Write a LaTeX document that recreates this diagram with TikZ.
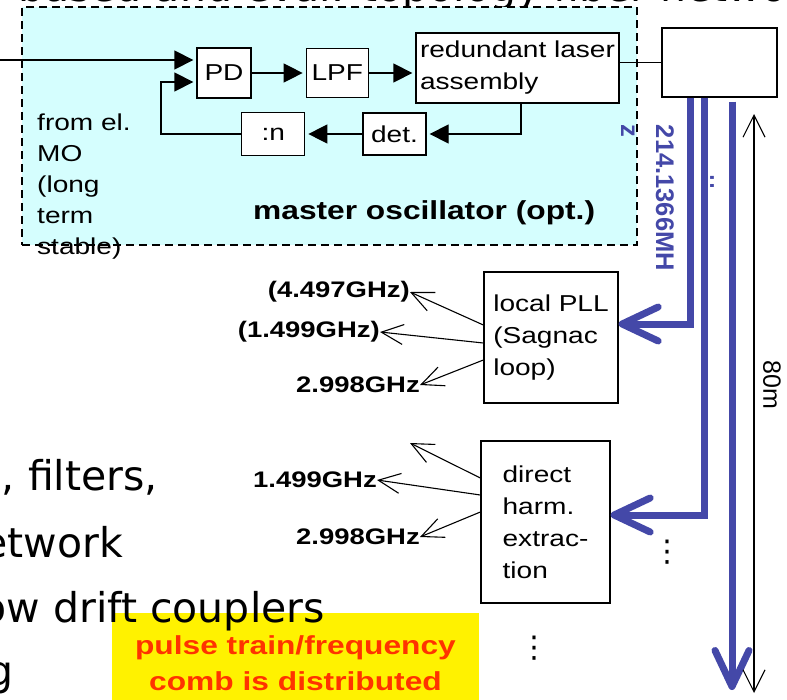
\documentclass[tikz,border=0pt]{standalone}
\usepackage{fontspec}
\setmainfont[FakeStretch=1.22]{Liberation Sans}
\newfontfamily\plainsans{Liberation Sans}
\newfontfamily\slidefont{DejaVu Sans}
\usetikzlibrary{arrows.meta,positioning,calc}
\definecolor{mocyan}{HTML}{D5FEFE}
\definecolor{fiberblue}{HTML}{4448A8}
\definecolor{combred}{HTML}{FF3300}

\begin{document}
\begin{tikzpicture}[
  x=1pt, y=-1pt,
  font=\fontsize{23}{32}\selectfont,
  box/.style={draw, line width=1.3pt, fill=white, inner sep=0pt, align=left},
  flow/.style={-{Triangle[length=19pt,width=19pt]}, line width=1.3pt, shorten >=3pt},
  tap/.style={-{Straight Barb[length=22pt,width=20pt]}, line width=1.1pt},
  fiber/.style={-{Straight Barb[length=36pt,width=34pt,round]}, line width=7pt, draw=fiberblue},
  dim/.style={{Straight Barb[length=22pt,width=22pt]}-{Straight Barb[length=22pt,width=22pt]}, line width=1.1pt},
  freq/.style={font=\fontsize{22.5}{26}\selectfont\bfseries, inner sep=0pt, anchor=east},
  slide/.style={font=\slidefont\fontsize{41}{48}\selectfont, inner sep=0pt, anchor=base east},
  dots/.style={inner sep=0pt, font=\slidefont\fontsize{30}{30}\selectfont}
]
\useasboundingbox (0,0) rectangle (787,699);
\node[slide, anchor=base west] (title) at (18,1) {based and eval. topology fiber network};
% master oscillator area
\node[draw, dash pattern=on 8pt off 5pt, line width=1.3pt, fill=mocyan, minimum width=615pt, minimum height=238pt, inner sep=0pt] (mo) at (329.5,126) {};
\node[box, minimum width=54pt, minimum height=50pt] (pd) at (224,73) {PD};
\node[box, minimum width=62pt, minimum height=49pt, right=54pt of pd] (lpf) {LPF};
\node[box, minimum width=203pt, minimum height=70pt] (laser) at (517.5,68) {redundant laser\\assembly};
\node[box, minimum width=63pt, minimum height=42pt] (det) at (394.5,134) {det.};
\node[box, minimum width=63pt, minimum height=43pt, left=57pt of det] (divn) {:n};
\node[anchor=north west, align=left, inner sep=0pt, font=\fontsize{23}{31}\selectfont] (elmo) at (37,114) {from el.\\MO\\(long\\term\\stable)};
\node[anchor=west, inner sep=0pt, font=\fontsize{26}{30}\selectfont\bfseries] (molabel) at (253,213) {master oscillator (opt.)};
\node[box, minimum width=115pt, minimum height=69pt] (rbox) at (719.5,62.5) {};
% receivers
\node[box, minimum width=134pt, minimum height=131pt] (pll) at (551,337.5) {local PLL\\(Sagnac\\loop)};
\node[box, minimum width=129pt, minimum height=162pt] (dhe) at (545.5,522) {direct\\harm.\\extrac-\\tion};
\node[freq] (pa) at (410,292) {(4.497GHz)};
\node[freq] (pb) at (380,332) {(1.499GHz)};
\node[freq] (pc) at (420,385) {2.998GHz};
\coordinate (da) at (410,443);
\node[freq] (db) at (377,480) {1.499GHz};
\node[freq] (dc) at (420,537) {2.998GHz};
% slide text
\node[fill=yellow, minimum width=367pt, minimum height=100pt, inner sep=0pt, align=center, text=combred, font=\fontsize{26}{36}\selectfont\bfseries, anchor=north] (comb) at (295.5,613) {pulse train/frequency\\comb is distributed};
\node[slide] (filt) at (158,490) {, filters,};
\node[slide] (netw) at (123,557) {etwork};
\node[slide] (coup) at (325,622) {ow drift couplers};
\node[slide] (tail) at (14,685) {g};
% labels along the link
\node[rotate=-90, align=left, inner sep=0pt, text=fiberblue, font=\plainsans\fontsize{25.5}{35}\selectfont\bfseries] (rep) at (647.5,198) {214.1366MH\\z};
\node[rotate=-90, inner sep=0pt, font=\plainsans\fontsize{25}{30}\selectfont] (len) at (772,385) {80m};
\node[text=fiberblue, font=\fontsize{22}{26}\selectfont\bfseries, inner sep=0pt] (sep) at (712,182) {:};
\node[dots] (dotsa) at (667,552) {⋮};
\node[dots] (dotsb) at (534,648) {⋮};
% loop
\coordinate (refin) at (0,60);
\draw[flow] (refin) -- (refin -| pd.west);
\draw[flow] (pd) -- (lpf);
\draw[flow] (lpf.east) -- (lpf.east -| laser.west);
\draw[flow] ([xshift=3.5pt]laser.south) |- (det.east);
\draw[flow] (det.west) -- (det.west -| divn.east);
\draw[flow] (divn.west) -- ++(-80,0) |- ([yshift=-9pt]pd.west);
\draw[line width=1.3pt] (laser.east |- rbox.west) -- (rbox.west);
% taps
\draw[tap] ([yshift=12.5pt]pll.west) -- (pa.east);
\draw[tap] ([yshift=-5.5pt]pll.west) -- (pb.east);
\draw[tap] ([yshift=-22.5pt]pll.west) -- (pc.east);
\draw[tap] ([yshift=44pt]dhe.west) -- (da);
\draw[tap] ([yshift=27pt]dhe.west) -- (db.east);
\draw[tap] ([yshift=10pt]dhe.west) -- (dc.east);
% fibres
\draw[fiber] ([xshift=-29.5pt]rbox.south) |- ([yshift=13.5pt]pll.east);
\draw[fiber] ([xshift=-15.5pt]rbox.south) |- ([yshift=7pt]dhe.east);
\coordinate (fibend) at (732,690);
\draw[fiber] ([xshift=12.5pt,yshift=-4pt]rbox.south) -- (fibend);
\coordinate (dimtop) at (754,114);
\coordinate (dimbot) at (754,693);
\draw[dim] (dimtop) -- (dimbot);
\end{tikzpicture}
\end{document}
